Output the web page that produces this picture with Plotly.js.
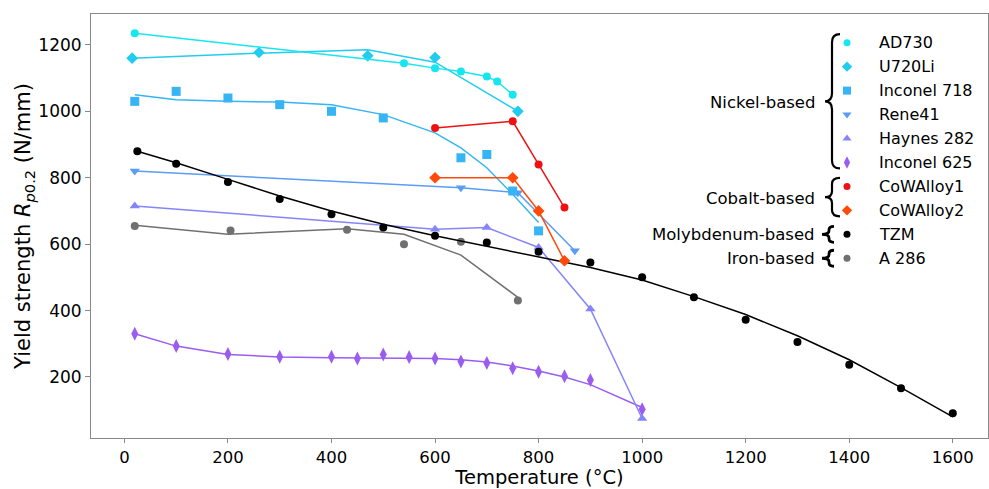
<!DOCTYPE html>
<html>
<head>
<meta charset="utf-8">
<script src="https://cdn.plot.ly/plotly-3.0.1.min.js"></script>
<style>html,body{margin:0;padding:0;background:#fff;}#chart{width:989px;height:489px;}</style>
</head>
<body>
<div id="chart"></div>
<script>
// ---------- data ----------
const seriesNames = ['AD730','U720Li','Inconel 718','Rene41','Haynes 282','Inconel 625','CoWAlloy1','CoWAlloy2','TZM','A 286'];
const seriesColors = ['#16e6f0','#22ccee','#36b4f4','#5b9cf5','#8585fa','#9b5cf0','#ee1111','#ff4a0a','#000000','#707070'];
const seriesSymbols = ['circle','diamond','square','triangle-down','triangle-up','diamond-tall','circle','diamond','circle','circle'];

const ad730X = [20,540,600,650,700,720,750];
const ad730Y = [1235,1145,1130,1120,1105,1090,1050];

const u720X = [15,260,470,600,760];
const u720Y = [1160,1177,1167,1162,1000];
const u720FitX = [15,260,470,600,760];
const u720FitY = [1160,1175,1185,1148,1000];

const in718X = [20,100,200,300,400,500,650,700,750,800];
const in718Y = [1030,1060,1040,1020,1000,980,860,870,760,640];
const in718FitX = [20,100,200,300,400,500,600,650,700,750,800];
const in718FitY = [1050,1035,1030,1028,1020,990,935,890,830,750,665];

const rene41X = [20,650,760,870];
const rene41Y = [820,770,755,580];

const haynesX = [20,600,700,800,900,1000];
const haynesY = [715,645,650,590,405,75];

const in625X = [20,100,200,300,400,450,500,550,600,650,700,750,800,850,900,1000];
const in625Y = [330,293,269,261,261,256,268,260,256,247,242,226,216,202,191,103];
const in625FitX = [20,100,200,300,400,450,500,550,600,650,700,750,800,850,900,1000];
const in625FitY = [330,293,268,260,258,257,257,257,256,252,245,233,218,200,177,108];

const co1X = [600,750,800,850];
const co1Y = [950,970,840,710];

const co2X = [600,750,800,850];
const co2Y = [800,800,700,550];

const tzmX = [25,100,200,300,400,500,600,700,800,900,1000,1100,1200,1300,1400,1500,1600];
const tzmY = [880,842,787,736,690,650,625,605,577,545,500,440,372,305,237,166,91];
const tzmFitY = [880,845,795,745,700,660,625,593,562,530,492,442,388,324,252,168,80];

const a286X = [20,205,430,540,650,760];
const a286Y = [655,641,643,600,607,430];
const a286FitX = [20,200,430,540,650,760];
const a286FitY = [657,630,646,630,567,440];

const groupNames = ['Nickel-based','Cobalt-based','Molybdenum-based','Iron-based'];
const groupSizes = [6,2,1,1];

const xTicks = [0,200,400,600,800,1000,1200,1400,1600];
const yTicks = [200,400,600,800,1000,1200];

// ---------- layout helpers ----------
const W = 989, H = 489;
const M = {l:91, r:1, t:14, b:51};
const PW = W - M.l - M.r, PH = H - M.t - M.b;
const px = x => (x - M.l) / PW;      // pixel -> paper x
const py = y => (M.t + PH - y) / PH; // pixel -> paper y
const FONT = 'DejaVu Sans, Arial, sans-serif';

const traces = [];
function fit(i, xs, ys) {
  traces.push({x: xs, y: ys, mode: 'lines', type: 'scatter', showlegend: false, hoverinfo: 'skip',
    line: {color: seriesColors[i], width: 1.5}});
}
function pts(i, xs, ys, withLine) {
  const sz = seriesSymbols[i] === 'diamond-tall' ? 10 : (seriesSymbols[i] === 'circle' ? 8 : 9);
  traces.push({x: xs, y: ys, mode: withLine ? 'lines+markers' : 'markers', type: 'scatter',
    name: seriesNames[i], showlegend: false,
    line: {color: seriesColors[i], width: 1.5},
    marker: {color: seriesColors[i], symbol: seriesSymbols[i], size: sz}});
}
// measured data with fitted lines
fit(9, a286FitX, a286FitY); pts(9, a286X, a286Y, false);
pts(5, in625X, in625Y, false); fit(5, in625FitX, in625FitY);
pts(4, haynesX, haynesY, true);
pts(3, rene41X, rene41Y, true);
fit(2, in718FitX, in718FitY); pts(2, in718X, in718Y, false);
fit(1, u720FitX, u720FitY); pts(1, u720X, u720Y, false);
pts(0, ad730X, ad730Y, true);
fit(8, tzmX, tzmFitY); pts(8, tzmX, tzmY, false);
pts(7, co2X, co2Y, true);
pts(6, co1X, co1Y, true);

// ---------- custom legend ----------
const row0 = 42.7, rowStep = 23.95;
const annotations = [];
const shapes = [];
seriesNames.forEach((n, i) => {
  const yy = py(row0 + rowStep * i);
  traces.push({x: [px(847)], y: [yy], xaxis: 'x2', yaxis: 'y2', mode: 'markers', type: 'scatter',
    showlegend: false, hoverinfo: 'skip',
    marker: {color: seriesColors[i], symbol: seriesSymbols[i],
      size: seriesSymbols[i] === 'diamond-tall' ? 9 : (seriesSymbols[i] === 'circle' ? 7 : 8)}});
  annotations.push({xref: 'paper', yref: 'paper', x: px(877), y: yy, xanchor: 'left', yanchor: 'middle',
    text: n, showarrow: false, font: {family: FONT, size: 16, color: '#000'}});
});
function bracePath(yTop, yBot, xEnd, xLine, xCusp, r) {
  const yMid = (yTop + yBot) / 2;
  const P = (x, y) => px(x).toFixed(5) + ',' + py(y).toFixed(5);
  return 'M' + P(xEnd, yTop) + ' Q' + P(xLine, yTop) + ' ' + P(xLine, yTop + r) +
    ' L' + P(xLine, yMid - r) + ' Q' + P(xLine, yMid) + ' ' + P(xCusp, yMid) +
    ' Q' + P(xLine, yMid) + ' ' + P(xLine, yMid + r) +
    ' L' + P(xLine, yBot - r) + ' Q' + P(xLine, yBot) + ' ' + P(xEnd, yBot);
}
let start = 0;
groupNames.forEach((g, k) => {
  const first = row0 + rowStep * start;
  const last = row0 + rowStep * (start + groupSizes[k] - 1);
  const mid = (first + last) / 2;
  annotations.push({xref: 'paper', yref: 'paper', x: px(817), y: py(mid), xanchor: 'right', yanchor: 'middle',
    text: g, showarrow: false, font: {family: FONT, size: 16.5, color: '#000'}});
  let path, w;
  if (groupSizes[k] > 1) {
    path = bracePath(first - 8.5, last + 6, 840, 832, 825, groupSizes[k] > 2 ? 8 : 6);
    w = 2.2;
  } else {
    path = bracePath(mid - 8, mid + 8, 834, 829, 822, 3.5);
    w = 2.8;
  }
  shapes.push({type: 'path', xref: 'paper', yref: 'paper', path: path, line: {color: '#000', width: w}});
  start += groupSizes[k];
});

const layout = {
  width: W, height: H,
  margin: M,
  paper_bgcolor: '#fff', plot_bgcolor: '#fff',
  showlegend: false,
  font: {family: FONT, color: '#000'},
  xaxis: {
    range: [-64.5, 1668], tickvals: xTicks, ticktext: xTicks.map(String),
    ticks: 'outside', ticklen: 4, tickcolor: '#888', tickwidth: 1,
    showline: true, linecolor: '#888', linewidth: 1, mirror: true,
    showgrid: false, zeroline: false,
    tickfont: {family: FONT, size: 16.5, color: '#000'},
    title: {text: 'Temperature (°C)', font: {family: FONT, size: 19.5, color: '#000'}, standoff: 8}
  },
  yaxis: {
    range: [16.3, 1293], tickvals: yTicks, ticktext: yTicks.map(String),
    ticks: 'outside', ticklen: 5, tickcolor: '#888', tickwidth: 1,
    showline: true, linecolor: '#888', linewidth: 1, mirror: true,
    showgrid: false, zeroline: false,
    tickfont: {family: FONT, size: 17, color: '#000'},
    title: {text: 'Yield strength <i>R</i><sub><i>p</i>0.2</sub> (N/mm)', font: {family: FONT, size: 21, color: '#000'}, standoff: 1}
  },
  xaxis2: {overlaying: 'x', range: [0, 1], visible: false, fixedrange: true},
  yaxis2: {overlaying: 'y', range: [0, 1], visible: false, fixedrange: true},
  annotations: annotations,
  shapes: shapes
};

Plotly.newPlot('chart', traces, layout, {staticPlot: true, displayModeBar: false});
</script>
</body>
</html>
